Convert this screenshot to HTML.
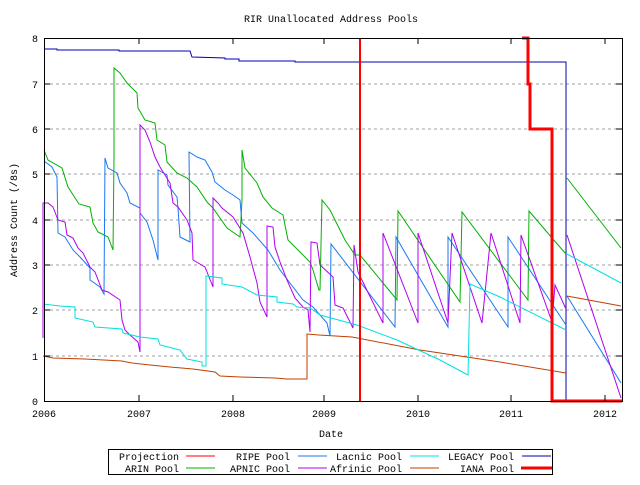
<!DOCTYPE html>
<html><head><meta charset="utf-8"><style>
body{margin:0;background:#fff;}
svg text{font-family:"Liberation Mono","DejaVu Sans Mono",monospace;font-size:10px;fill:#000;}
</style></head><body>
<svg width="640" height="480" xmlns="http://www.w3.org/2000/svg">
<rect width="640" height="480" fill="#fff"/>
<text x="331" y="22" text-anchor="middle">RIR Unallocated Address Pools</text>
<g stroke="#a0a0a0" stroke-dasharray="3,3">
<line x1="50" y1="356" x2="616" y2="356"/><line x1="50" y1="310" x2="616" y2="310"/><line x1="50" y1="265" x2="616" y2="265"/><line x1="50" y1="220" x2="616" y2="220"/><line x1="50" y1="174" x2="616" y2="174"/><line x1="50" y1="129" x2="616" y2="129"/><line x1="50" y1="84" x2="616" y2="84"/>
</g>
<g fill="none" stroke-width="1">
<polyline stroke="#0000b0" points="44,49 57,49 57,50 119,50 119,51 190,51 192,57 225,58 225,59 239,59 239,61 295,61 295,62 566,62 566,401"/>
<polyline stroke="#00b000" points="44,150 48,160 62,168 68,187 79,204 90,207 93,223 98,232 108,237 113,250 114,158 114,68 120,73 127,83 137,93 138,108 145,120 155,123 157,140 165,145 167,162 177,173 187,178 197,187 207,202 213,208 227,228 240,237 242,200 242,150 245,168 257,183 263,197 272,208 283,215 288,240 300,252 310,262 313,270 319,290 320,290 322,200 330,210 345,240 355,255 360,255 397,300 398,211 460,302 462,212 528,300 529,211 552,238 566,254"/>
<polyline stroke="#00b000" points="567,178 621,248"/>
<polyline stroke="#1a78f0" points="44,161 52,167 57,177 58,233 65,237 73,250 80,257 90,268 90,280 100,287 104,294 105,158 108,168 117,173 120,183 127,193 130,203 140,208 140,213 147,222 153,240 158,260 158,170 167,175 168,185 177,197 178,208 180,237 190,242 189,152 197,157 205,160 212,172 215,182 225,190 233,195 240,200 242,223 253,233 268,250 280,270 290,283 303,300 313,307 327,323 330,336 331,244 395,327 396,237 448,327 448,237 508,327 508,237 566,325"/>
<polyline stroke="#1a78f0" points="567,296 621,383"/>
<polyline stroke="#b000f0" points="43,338 43,203 48,203 53,207 58,220 65,222 67,235 73,238 78,248 83,253 90,267 95,272 102,290 108,292 120,300 122,320 125,330 130,335 138,342 140,352 140,125 145,130 150,142 155,157 160,167 170,183 173,203 178,207 187,220 192,233 193,260 205,267 213,287 213,198 218,203 222,208 233,217 243,233 250,257 257,283 260,302 267,317 267,226 273,227 275,247 280,262 287,280 295,298 303,307 308,310 310,332 311,242 317,243 320,265 333,277 335,305 343,308 353,328 354,245 358,272 383,323 383,233 418,323 418,233 448,323 452,233 482,323 491,233 520,323 521,235 552,322 555,285 566,309"/>
<polyline stroke="#b000f0" points="567,235 621,398"/>
<polyline stroke="#c04000" points="43,356 53,358 85,359 122,361 132,363 150,365 170,367 193,369 215,372 220,376 240,377 275,378 287,379 307,379 307,334 319,335 352,337 420,350 500,362 566,373"/>
<polyline stroke="#c04000" points="567,296 621,306"/>
<polyline stroke="#00e0e0" points="43,304 60,306 75,307 75,318 93,322 95,327 122,329 123,333 140,337 158,339 160,345 180,350 187,359 202,362 202,366 206,366 206,276 222,278 222,284 242,287 257,295 277,297 277,302 293,304 297,307 310,308 320,315 357,325 397,340 440,360 468,375 470,284 500,297 566,330"/>
<polyline stroke="#00e0e0" points="567,254 621,283"/>
<line x1="360" y1="38" x2="360" y2="401" stroke="#f00" stroke-width="2"/>
<polyline stroke="#f00" stroke-width="3" points="522,38 528,38 528,84 530,84 530,129 552,129 552,401 622,401"/>
</g>
<rect x="44.5" y="38.5" width="578" height="363" fill="none" stroke="#000"/>
<g stroke="#000">
<line x1="44" y1="356" x2="50" y2="356"/><line x1="44" y1="310" x2="50" y2="310"/><line x1="44" y1="265" x2="50" y2="265"/><line x1="44" y1="220" x2="50" y2="220"/><line x1="44" y1="174" x2="50" y2="174"/><line x1="44" y1="129" x2="50" y2="129"/><line x1="44" y1="84" x2="50" y2="84"/>
<line x1="616" y1="356" x2="622" y2="356"/><line x1="616" y1="310" x2="622" y2="310"/><line x1="616" y1="265" x2="622" y2="265"/><line x1="616" y1="220" x2="622" y2="220"/><line x1="616" y1="174" x2="622" y2="174"/><line x1="616" y1="129" x2="622" y2="129"/><line x1="616" y1="84" x2="622" y2="84"/>
<line x1="139" y1="401" x2="139" y2="395"/><line x1="233" y1="401" x2="233" y2="395"/><line x1="324" y1="401" x2="324" y2="395"/><line x1="418" y1="401" x2="418" y2="395"/><line x1="511" y1="401" x2="511" y2="395"/><line x1="605" y1="401" x2="605" y2="395"/>
<line x1="139" y1="38" x2="139" y2="44"/><line x1="233" y1="38" x2="233" y2="44"/><line x1="324" y1="38" x2="324" y2="44"/><line x1="418" y1="38" x2="418" y2="44"/><line x1="511" y1="38" x2="511" y2="44"/><line x1="605" y1="38" x2="605" y2="44"/>
</g>
<g text-anchor="end">
<text x="38" y="405">0</text><text x="38" y="360">1</text><text x="38" y="314">2</text><text x="38" y="269">3</text><text x="38" y="224">4</text><text x="38" y="178">5</text><text x="38" y="133">6</text><text x="38" y="88">7</text><text x="38" y="42">8</text>
</g>
<g text-anchor="middle">
<text x="44" y="417">2006</text><text x="139" y="417">2007</text><text x="233" y="417">2008</text><text x="324" y="417">2009</text><text x="418" y="417">2010</text><text x="511" y="417">2011</text><text x="605" y="417">2012</text>
<text x="331" y="437">Date</text>
</g>
<text transform="translate(17,220) rotate(-90)" text-anchor="middle">Address Count (/8s)</text>
<rect x="108.5" y="449.5" width="444" height="25" fill="none" stroke="#000"/>
<g text-anchor="end">
<text x="179" y="460">Projection</text><text x="290" y="460">RIPE Pool</text><text x="402" y="460">Lacnic Pool</text><text x="514" y="460">LEGACY Pool</text>
<text x="179" y="472">ARIN Pool</text><text x="290" y="472">APNIC Pool</text><text x="402" y="472">Afrinic Pool</text><text x="514" y="472">IANA Pool</text>
</g>
<g>
<line x1="186" y1="456" x2="215" y2="456" stroke="#f00"/>
<line x1="298" y1="456" x2="327" y2="456" stroke="#1a78f0"/>
<line x1="410" y1="456" x2="439" y2="456" stroke="#00e0e0"/>
<line x1="522" y1="456" x2="551" y2="456" stroke="#0000b0"/>
<line x1="186" y1="468" x2="215" y2="468" stroke="#00b000"/>
<line x1="298" y1="468" x2="327" y2="468" stroke="#b000f0"/>
<line x1="410" y1="468" x2="439" y2="468" stroke="#c04000"/>
<line x1="521" y1="468" x2="552" y2="468" stroke="#f00" stroke-width="3"/>
</g>
</svg>
</body></html>
